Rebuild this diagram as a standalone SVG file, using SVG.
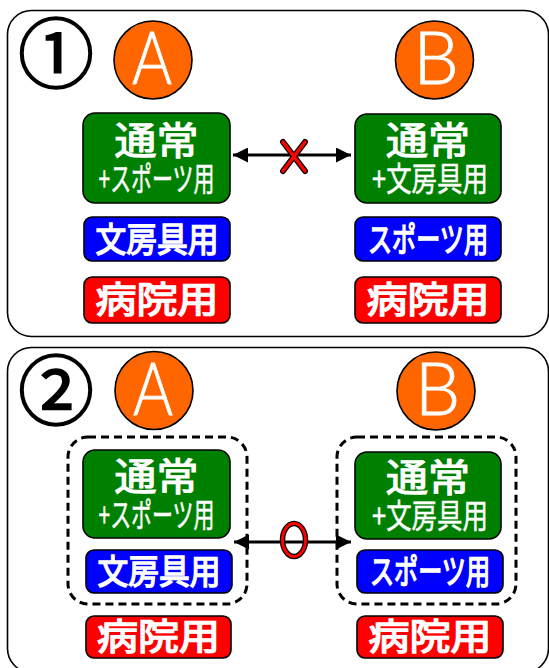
<svg xmlns="http://www.w3.org/2000/svg" width="549" height="668" viewBox="0 0 549 668">
<style>
.panel{fill:#fff;stroke:#000;stroke-width:1.6}
.num{font-family:"Noto Sans CJK JP",sans-serif;font-weight:normal;font-size:76px;fill:#000;stroke:#000;stroke-width:1.6;text-anchor:middle}
.circ{fill:#FF6600;stroke:#000;stroke-width:1.6}
.letter{font-family:Lato,"Noto Sans",sans-serif;font-weight:300;font-size:72px;fill:#fff;stroke:#fff;stroke-width:0.8;text-anchor:middle}
.green{fill:#008000;stroke:#000;stroke-width:1.6}
.blue{fill:#0000FF;stroke:#000;stroke-width:1.6}
.red{fill:#FF0000;stroke:#000;stroke-width:1.6}
.t{font-family:"Noto Sans CJK JP",sans-serif;font-weight:normal;fill:#fff;stroke:#fff;text-anchor:middle}
.big{stroke-width:1.2}
.sub{stroke-width:0.5}
.lab{stroke-width:1.5}
.dash{fill:none;stroke:#000;stroke-width:3;stroke-dasharray:8 5}
.conn{stroke:#000;stroke-width:3;fill:none}
</style>
<defs>
<marker id="ah" viewBox="0 0 10 10" refX="10" refY="5" markerWidth="5" markerHeight="5" orient="auto-start-reverse" markerUnits="strokeWidth">
<path d="M0,0 L10,5 L0,10 Z" fill="#000"/>
</marker>
</defs>
<rect class="panel" x="7.5" y="10.5" width="541" height="326" rx="24"/>
<rect class="panel" x="7.5" y="347.5" width="541" height="325" rx="24"/>

<g id="num1"><text class="num" x="56" y="82">①</text></g>
<g id="num2"><text class="num" x="56" y="419">②</text></g>

<g id="A1"><circle class="circ" cx="153" cy="60" r="39"/><text class="letter" x="152" y="84" textLength="40" lengthAdjust="spacingAndGlyphs">A</text></g>
<g id="B1"><circle class="circ" cx="434.5" cy="60" r="39"/><text class="letter" x="436" y="84">B</text></g>
<g id="A2"><circle class="circ" cx="154" cy="390.5" r="39"/><text class="letter" x="153" y="415" textLength="40" lengthAdjust="spacingAndGlyphs">A</text></g>
<g id="B2"><circle class="circ" cx="436" cy="391" r="39"/><text class="letter" x="437.5" y="415">B</text></g>

<g id="A1-main"><rect class="green" x="83" y="113" width="147" height="90" rx="12"/>
<text class="t big" x="156.5" y="154" font-size="38" textLength="84" lengthAdjust="spacingAndGlyphs">通常</text>
<text class="t sub" x="156.5" y="191" font-size="33" textLength="116" lengthAdjust="spacingAndGlyphs">+スポーツ用</text></g>
<g id="A1-stat"><rect class="blue" x="84" y="217" width="146" height="44" rx="8"/>
<text class="t lab" x="157" y="252" font-size="34" textLength="123" lengthAdjust="spacingAndGlyphs">文房具用</text></g>
<g id="A1-hosp"><rect class="red" x="84" y="277" width="146" height="46" rx="8"/>
<text class="t lab" x="157" y="313" font-size="36" textLength="123" lengthAdjust="spacingAndGlyphs">病院用</text></g>

<g id="B1-main"><rect class="green" x="355" y="114" width="146" height="89" rx="12"/>
<text class="t big" x="428" y="154" font-size="38" textLength="84" lengthAdjust="spacingAndGlyphs">通常</text>
<text class="t sub" x="430" y="191" font-size="33" textLength="116" lengthAdjust="spacingAndGlyphs">+文房具用</text></g>
<g id="B1-sport"><rect class="blue" x="355" y="217" width="146" height="44" rx="8"/>
<text class="t lab" x="428" y="252" font-size="34" textLength="120" lengthAdjust="spacingAndGlyphs">スポーツ用</text></g>
<g id="B1-hosp"><rect class="red" x="355" y="277" width="146" height="46" rx="8"/>
<text class="t lab" x="428" y="313" font-size="36" textLength="123" lengthAdjust="spacingAndGlyphs">病院用</text></g>

<g id="A2-group"><rect class="dash" x="68" y="437" width="179" height="167" rx="20"/></g>
<g id="A2-main"><rect class="green" x="83" y="450" width="147" height="88" rx="12"/>
<text class="t big" x="156.5" y="490" font-size="38" textLength="84" lengthAdjust="spacingAndGlyphs">通常</text>
<text class="t sub" x="156.5" y="527" font-size="33" textLength="116" lengthAdjust="spacingAndGlyphs">+スポーツ用</text></g>
<g id="A2-stat"><rect class="blue" x="86" y="550" width="146" height="43" rx="8"/>
<text class="t lab" x="159" y="584" font-size="34" textLength="123" lengthAdjust="spacingAndGlyphs">文房具用</text></g>
<g id="A2-hosp"><rect class="red" x="86" y="616" width="145" height="42" rx="8"/>
<text class="t lab" x="158.5" y="650" font-size="36" textLength="123" lengthAdjust="spacingAndGlyphs">病院用</text></g>

<g id="B2-group"><rect class="dash" x="337" y="437" width="179" height="167" rx="20"/></g>
<g id="B2-main"><rect class="green" x="355" y="452" width="146" height="87" rx="12"/>
<text class="t big" x="428" y="491" font-size="38" textLength="84" lengthAdjust="spacingAndGlyphs">通常</text>
<text class="t sub" x="430" y="528" font-size="33" textLength="116" lengthAdjust="spacingAndGlyphs">+文房具用</text></g>
<g id="B2-sport"><rect class="blue" x="357" y="550" width="146" height="43" rx="8"/>
<text class="t lab" x="430" y="584" font-size="34" textLength="120" lengthAdjust="spacingAndGlyphs">スポーツ用</text></g>
<g id="B2-hosp"><rect class="red" x="357" y="616" width="146" height="42" rx="8"/>
<text class="t lab" x="430" y="650" font-size="36" textLength="123" lengthAdjust="spacingAndGlyphs">病院用</text></g>

<g id="connectors">
<line class="conn" x1="233" y1="155" x2="351" y2="155" marker-start="url(#ah)" marker-end="url(#ah)"/>
<g id="cross">
<line x1="283" y1="142" x2="305" y2="171" stroke="#000" stroke-width="6" stroke-linecap="round"/>
<line x1="305" y1="142" x2="283" y2="171" stroke="#000" stroke-width="6" stroke-linecap="round"/>
<line x1="283" y1="142" x2="305" y2="171" stroke="#FF0000" stroke-width="3.5" stroke-linecap="round"/>
<line x1="305" y1="142" x2="283" y2="171" stroke="#FF0000" stroke-width="3.5" stroke-linecap="round"/>
</g>
<line class="conn" x1="234" y1="542" x2="351" y2="542" marker-start="url(#ah)" marker-end="url(#ah)"/>
<g id="circle-ok">
<ellipse cx="294" cy="540" rx="11.5" ry="16.5" fill="none" stroke="#000" stroke-width="5.5"/>
<ellipse cx="294" cy="540" rx="11.5" ry="16.5" fill="none" stroke="#FF0000" stroke-width="3"/>
</g>
</g>
</svg>
